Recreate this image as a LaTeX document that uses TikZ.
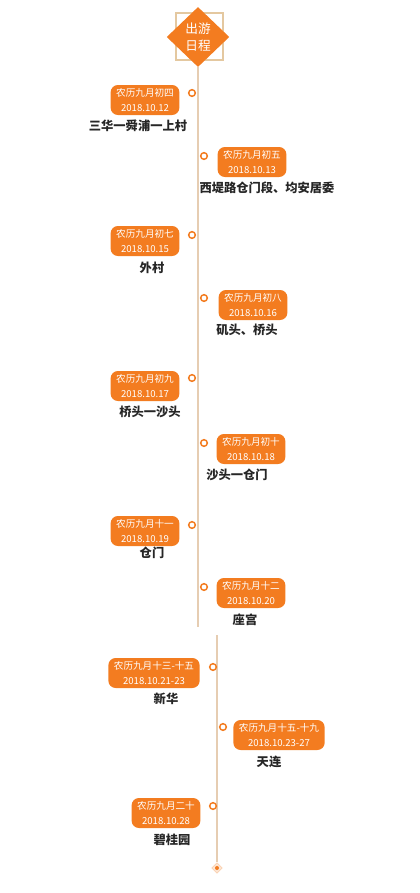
\documentclass[tikz,border=0pt]{standalone}
\usepackage{fontspec}
\setmainfont{Noto Sans CJK SC}
\usetikzlibrary{shapes.geometric,positioning}
\definecolor{triporange}{RGB}{243,124,32}
\definecolor{spinetan}{RGB}{230,205,178}
\definecolor{frametan}{RGB}{228,200,160}

\begin{document}
\begin{tikzpicture}[x=0.75pt,y=-0.75pt,
        datebox/.style={fill=triporange, text=white, rounded corners=5.5pt, align=center, font=\fontsize{7.2}{11.5}\selectfont, inner xsep=4.2pt, inner ysep=1.5pt, minimum height=22.5pt},
        place/.style={font=\fontsize{9.2}{11}\selectfont\bfseries, text=black!85},
        dot/.style={circle, draw=triporange, fill=white, line width=1.1pt, minimum size=5pt, inner sep=0pt},
        spine/.style={draw=spinetan, line width=0.9pt}
    ]
        \useasboundingbox (0,0) rectangle (420,893);

        % head of the timeline
        \node[draw=frametan, line width=1.2pt, minimum width=35pt, minimum height=35pt] (frame) at (199.5,36.5) {};
        \node[diamond, fill=triporange, text=white, minimum width=47pt, minimum height=45pt, inner sep=0pt, align=center, font=\fontsize{9.5}{13}\selectfont] (start) at (198,37) {出游\\日程};

        \coordinate (upperend) at (198,627);
        \coordinate (lowerstart) at (217,635);
        \node[diamond, fill=triporange!20, draw=triporange!40, minimum size=8pt, inner sep=0pt] (finish) at (217,868) {};
        \node[circle, fill=triporange, minimum size=3pt, inner sep=0pt] (finishdot) at (finish) {};

        \draw[spine] (start) -- (upperend);
        \draw[spine] (lowerstart) -- (finish);

        \node[dot] (dot1) at (192,93) {};
        \node[datebox] (day1) at (145,100) {农历九月初四\\2018.10.12};
        \node[place] (place1) at (138,126) {三华一舜浦一上村};

        \node[dot] (dot2) at (204,156) {};
        \node[datebox] (day2) at (252,162) {农历九月初五\\2018.10.13};
        \node[place] (place2) at (267,188) {西堤路仓门段、均安居委};

        \node[dot] (dot3) at (192,235) {};
        \node[datebox] (day3) at (145,241) {农历九月初七\\2018.10.15};
        \node[place] (place3) at (152,268) {外村};

        \node[dot] (dot4) at (204,298) {};
        \node[datebox] (day4) at (253,305) {农历九月初八\\2018.10.16};
        \node[place] (place4) at (247,330) {矶头、桥头};

        \node[dot] (dot5) at (192,378) {};
        \node[datebox] (day5) at (145,386) {农历九月初九\\2018.10.17};
        \node[place] (place5) at (150,412) {桥头一沙头};

        \node[dot] (dot6) at (204,443) {};
        \node[datebox] (day6) at (251,449) {农历九月初十\\2018.10.18};
        \node[place] (place6) at (237,475) {沙头一仓门};

        \node[dot] (dot7) at (192,525) {};
        \node[datebox] (day7) at (145,531) {农历九月十一\\2018.10.19};
        \node[place] (place7) at (152,553) {仓门};

        \node[dot] (dot8) at (204,587) {};
        \node[datebox] (day8) at (251,593) {农历九月十二\\2018.10.20};
        \node[place] (place8) at (245,620) {座宫};

        \node[dot] (dot9) at (213,667) {};
        \node[datebox] (day9) at (154,673) {农历九月十三-十五\\2018.10.21-23};
        \node[place] (place9) at (166,699) {新华};

        \node[dot] (dot10) at (223,727) {};
        \node[datebox] (day10) at (279,735) {农历九月十五-十九\\2018.10.23-27};
        \node[place] (place10) at (269,762) {天连};

        \node[dot] (dot11) at (213,806) {};
        \node[datebox] (day11) at (166,813) {农历九月二十\\2018.10.28};
        \node[place] (place11) at (172,840) {碧桂园};
    \end{tikzpicture}
\end{document}
